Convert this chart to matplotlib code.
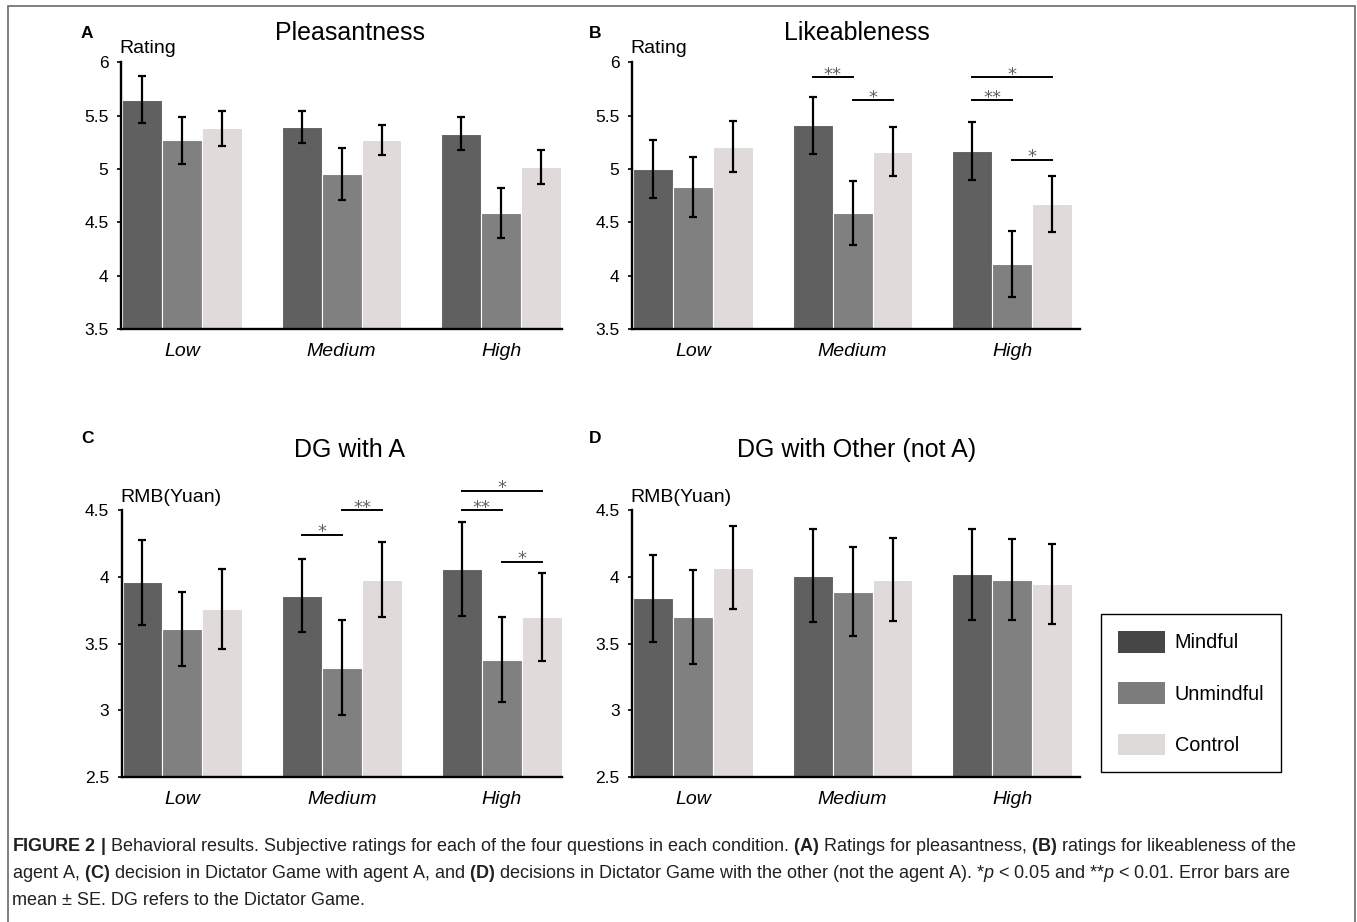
import matplotlib
matplotlib.use("Agg")
import matplotlib.pyplot as plt
from matplotlib.patches import Patch, Rectangle
from matplotlib import font_manager as fm
import numpy as np

# ---- data ----
groups = ["Low", "Medium", "High"]
conditions = ["Mindful", "Unmindful", "Control"]

# rows: Mindful, Unmindful, Control ; cols: Low, Medium, High
pleas_mean = [[5.65, 5.39, 5.33], [5.27, 4.95, 4.59], [5.38, 5.27, 5.02]]
pleas_se = [[0.22, 0.15, 0.155], [0.22, 0.245, 0.235], [0.16, 0.14, 0.16]]
like_mean = [[5.00, 5.41, 5.17], [4.83, 4.59, 4.11], [5.21, 5.16, 4.67]]
like_se = [[0.27, 0.265, 0.275], [0.28, 0.30, 0.31], [0.24, 0.23, 0.26]]
dga_mean = [[3.96, 3.86, 4.06], [3.61, 3.32, 3.38], [3.76, 3.98, 3.70]]
dga_se = [[0.32, 0.275, 0.35], [0.28, 0.356, 0.32], [0.30, 0.28, 0.33]]
dgo_mean = [[3.84, 4.01, 4.02], [3.70, 3.89, 3.98], [4.07, 3.98, 3.95]]
dgo_se = [[0.325, 0.35, 0.34], [0.35, 0.335, 0.306], [0.31, 0.31, 0.30]]

# significance: (group, cond a, cond b, y, label)
like_sig = [(1, 0, 1, 5.86, "**"), (1, 1, 2, 5.645, "*"),
            (2, 0, 2, 5.86, "*"), (2, 0, 1, 5.645, "**"), (2, 1, 2, 5.085, "*")]
dga_sig = [(1, 0, 1, 4.315, "*"), (1, 1, 2, 4.50, "**"),
           (2, 0, 2, 4.645, "*"), (2, 0, 1, 4.50, "**"), (2, 1, 2, 4.115, "*")]

bar_colors = ["#606060", "#808080", "#e0dada"]
legend_colors = ["#464646", "#7c7c7c", "#dedada"]

caption_lines = [
    r"$\mathbf{FIGURE\ 2\ |}$ Behavioral results. Subjective ratings for each of the four questions in each condition. "
    r"$\mathbf{(A)}$ Ratings for pleasantness, $\mathbf{(B)}$ ratings for likeableness of the",
    r"agent A, $\mathbf{(C)}$ decision in Dictator Game with agent A, and $\mathbf{(D)}$ decisions in Dictator Game "
    r"with the other (not the agent A). *$p$ < 0.05 and **$p$ < 0.01. Error bars are",
    r"mean ± SE. DG refers to the Dictator Game.",
]

# ---- fonts ----
names = {f.name for f in fm.fontManager.ttflist}
cap_font = "Liberation Sans Narrow" if "Liberation Sans Narrow" in names else "Liberation Sans"
plt.rcParams["font.family"] = ["Liberation Sans", "DejaVu Sans"]
plt.rcParams["mathtext.fontset"] = "custom"
plt.rcParams["mathtext.bf"] = cap_font + ":bold"
plt.rcParams["mathtext.it"] = cap_font + ":italic"
plt.rcParams["mathtext.rm"] = cap_font

W, H = 1357, 922
fig = plt.figure(figsize=(W / 100, H / 100), dpi=100)

PX_PER_UNIT = 159.7
BAR_W = 0.25


def fig_rect(l, t, r, b):
    return [l / W, 1 - b / H, (r - l) / W, (b - t) / H]


def panel(rect, means, ses, ylim, yticks, ylabel, sig=(), ylab_gap=10):
    l, t, r, b = rect
    ax = fig.add_axes(fig_rect(*rect))
    x = np.arange(len(groups))
    for i in range(len(conditions)):
        ax.bar(x + (i - 1) * BAR_W, means[i], BAR_W, color=bar_colors[i],
               edgecolor="white", linewidth=0.8, zorder=2)
        ax.errorbar(x + (i - 1) * BAR_W, means[i], yerr=ses[i], fmt="none",
                    ecolor="black", elinewidth=1.6, capsize=2.6, capthick=1.6, zorder=3)
    for g, a, c, y, lab in sig:
        xa = g + (a - 1) * BAR_W
        xc = g + (c - 1) * BAR_W
        ax.plot([xa, xc], [y, y], color="black", lw=1.4, clip_on=False, zorder=4)
        ax.annotate(lab, xy=((xa + xc) / 2, y), xytext=(0, -1.8), textcoords="offset points",
                    ha="center", va="baseline", fontsize=13, color="#606060",
                    family="DejaVu Sans", annotation_clip=False)
    x0 = -1.5 * BAR_W - 1 / PX_PER_UNIT
    ax.set_xlim(x0, x0 + (r - l) / PX_PER_UNIT)
    ax.set_ylim(*ylim)
    ax.set_yticks(yticks)
    ax.set_yticklabels([f"{v:g}" for v in yticks])
    ax.set_xticks(x)
    ax.set_xticklabels(groups, fontstyle="italic", fontsize=14)
    ax.tick_params(axis="x", length=0, pad=10)
    ax.tick_params(axis="y", length=3, width=1.2, pad=6, labelsize=12.5)
    for s in ("top", "right"):
        ax.spines[s].set_visible(False)
    for s in ("left", "bottom"):
        ax.spines[s].set_linewidth(1.7)
    ax.annotate(ylabel, xy=(0, 1), xycoords="axes fraction", xytext=(-1, ylab_gap),
                textcoords="offset points", ha="left", va="center", fontsize=14)
    return ax


pA = (121, 62.3, 562, 329)
pB = (632, 62.3, 1080, 329)
pC = (121.5, 510.3, 562, 777)
pD = (632, 510.3, 1080, 777)

panel(pA, pleas_mean, pleas_se, (3.5, 6), [3.5, 4, 4.5, 5, 5.5, 6], "Rating")
panel(pB, like_mean, like_se, (3.5, 6), [3.5, 4, 4.5, 5, 5.5, 6], "Rating", like_sig)
panel(pC, dga_mean, dga_se, (2.5, 4.5), [2.5, 3, 3.5, 4, 4.5], "RMB(Yuan)", dga_sig, ylab_gap=9)
panel(pD, dgo_mean, dgo_se, (2.5, 4.5), [2.5, 3, 3.5, 4, 4.5], "RMB(Yuan)", ylab_gap=9)

# titles and panel letters
for txt, cx, cy in [("Pleasantness", 350, 33), ("Likeableness", 857, 33),
                    ("DG with A", 349, 450), ("DG with Other (not A)", 857, 450)]:
    fig.text(cx / W, 1 - cy / H, txt, ha="center", va="center", fontsize=18)
for txt, cx, cy in [("A", 87, 33), ("B", 595, 33), ("C", 87, 438), ("D", 595, 438)]:
    fig.text(cx / W, 1 - cy / H, txt, ha="center", va="center", fontsize=12.5, fontweight="bold")

# legend
handles = [Patch(facecolor=c, edgecolor="none") for c in legend_colors]
leg = fig.legend(handles, conditions, loc="upper left", bbox_to_anchor=(1101 / W, 1 - 614 / H),
                 borderaxespad=0, fontsize=14.3, handlelength=2.36, handleheight=1.3,
                 labelspacing=1.5, handletextpad=0.5, borderpad=0.85, fancybox=False,
                 edgecolor="black", framealpha=1)
leg.get_frame().set_linewidth(1.0)

# outer frame around figure + caption
fig.patches.append(Rectangle((8 / W, -0.05), (1355 - 8) / W, 1.05 - 6 / H,
                             transform=fig.transFigure, facecolor="none",
                             edgecolor="#6a6a6a", lw=1.2))
cap_texts = []
for k, line in enumerate(caption_lines):
    cap_texts.append(fig.text(12 / W, 1 - (846 + 27 * k) / H, line, ha="left", va="center",
                              fontsize=11, family=cap_font, color="#231f20"))
fig.canvas.draw()
w1 = cap_texts[0].get_window_extent().width
fs = 11 * 1288 / w1
for t in cap_texts:
    t.set_fontsize(fs)

fig.savefig("out.png", dpi=100)
